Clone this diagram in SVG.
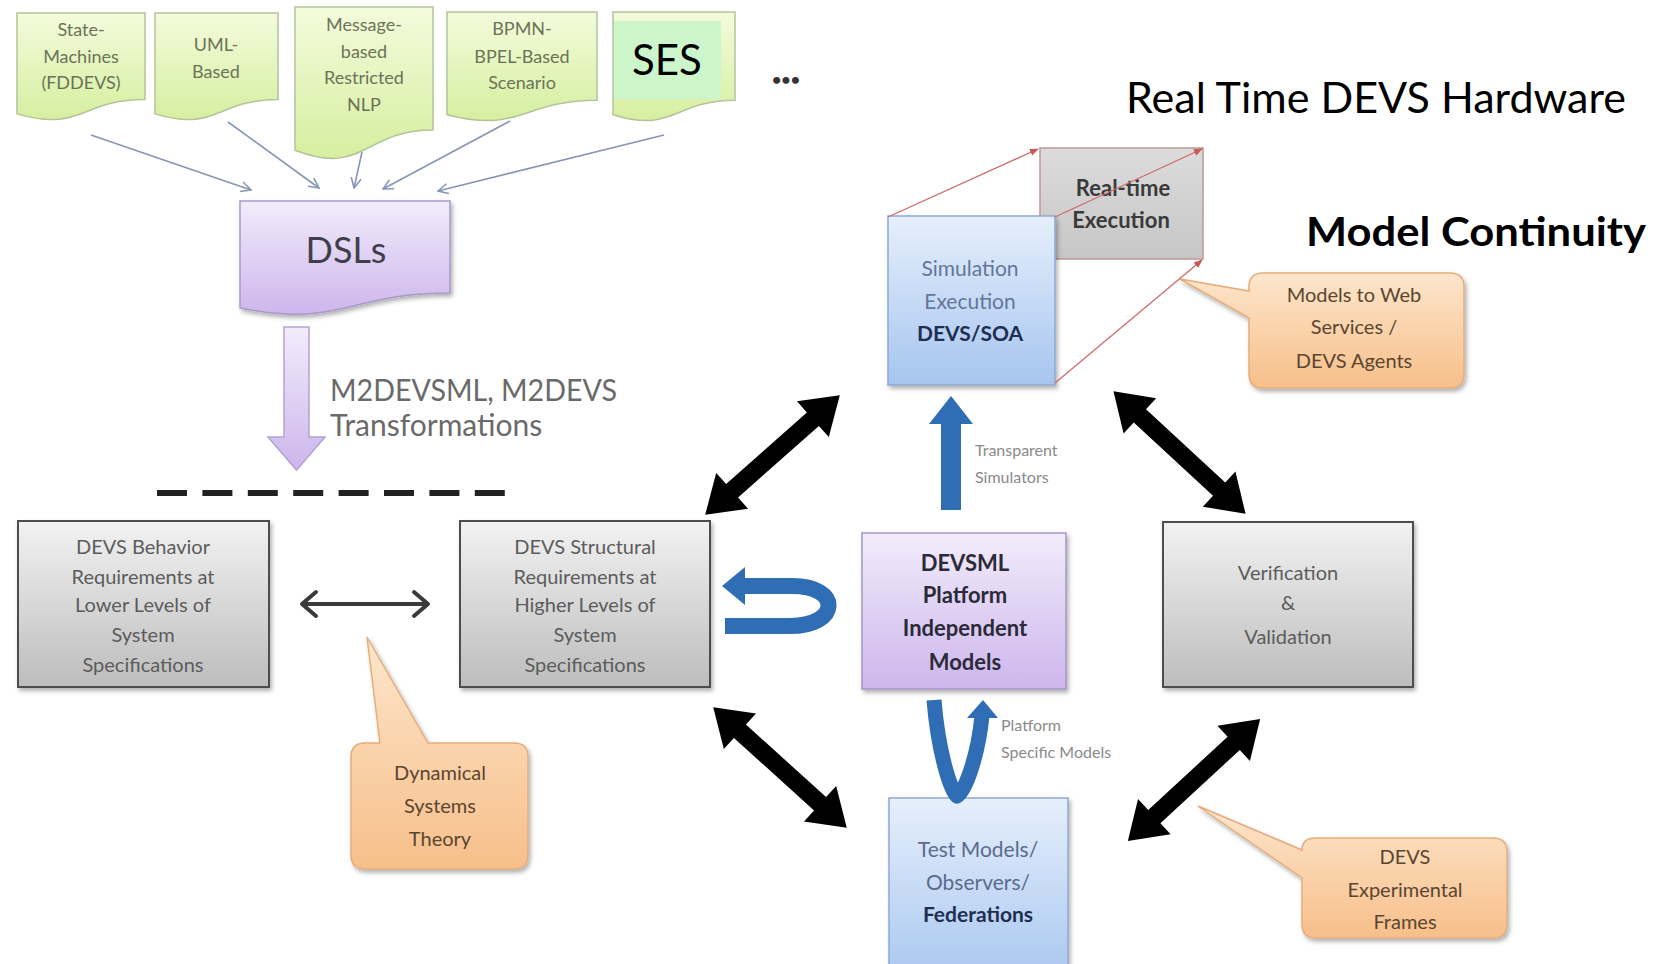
<svg xmlns="http://www.w3.org/2000/svg" xmlns:xlink="http://www.w3.org/1999/xlink" width="1655" height="964" viewBox="0 0 1655 964">
  <defs>
    <linearGradient id="gGreen" x1="0" y1="0" x2="0" y2="1">
      <stop offset="0" stop-color="#f4fbdc"/>
      <stop offset="1" stop-color="#d6efa0"/>
    </linearGradient>
    <linearGradient id="gPurple" x1="0" y1="0" x2="0" y2="1">
      <stop offset="0" stop-color="#f2ecfb"/>
      <stop offset="1" stop-color="#cdb6ec"/>
    </linearGradient>
    <linearGradient id="gGray" x1="0" y1="0" x2="0" y2="1">
      <stop offset="0" stop-color="#f2f2f2"/>
      <stop offset="1" stop-color="#bdbdbd"/>
    </linearGradient>
    <linearGradient id="gBlue" x1="0" y1="0" x2="0" y2="1">
      <stop offset="0" stop-color="#e6effc"/>
      <stop offset="1" stop-color="#a6c5ef"/>
    </linearGradient>
    <linearGradient id="gOrange" x1="0" y1="0" x2="0" y2="1">
      <stop offset="0" stop-color="#fde6cc"/>
      <stop offset="1" stop-color="#f7bf8a"/>
    </linearGradient>
    <linearGradient id="gRT" x1="0" y1="0" x2="0" y2="1">
      <stop offset="0" stop-color="#dcdcdc"/>
      <stop offset="1" stop-color="#c6c6c6"/>
    </linearGradient>
    <filter id="shadow" x="-10%" y="-10%" width="125%" height="130%">
      <feDropShadow dx="2" dy="3" stdDeviation="2" flood-color="#000" flood-opacity="0.3"/>
    </filter>
    <marker id="openHead" viewBox="0 0 12 12" refX="11" refY="6" markerWidth="12" markerHeight="12" markerUnits="userSpaceOnUse" orient="auto">
      <path d="M1,1 L11,6 L1,11" fill="none" stroke="#8796b6" stroke-width="1.6"/>
    </marker>
    <marker id="redHead" viewBox="0 0 10 10" refX="9" refY="5" markerWidth="9" markerHeight="9" markerUnits="userSpaceOnUse" orient="auto">
      <path d="M0,1 L10,5 L0,9 Z" fill="#c85a5a"/>
    </marker>
    <!-- thick black two-headed arrow, 180 long, centred on the origin -->
    <polygon id="dbl" points="-90,0 -54,-24 -54,-9 54,-9 54,-24 90,0 54,24 54,9 -54,9 -54,24" fill="#000"/>
    <style>
      .t { font-family: Lato, "Liberation Sans", sans-serif; text-anchor: middle; }
      .doc { fill: url(#gGreen); stroke: #b4c39a; stroke-width: 1.5; }
      .doctxt { font-size: 18px; fill: #6b7358; }
      .graybox { fill: url(#gGray); stroke: #4e4e4e; stroke-width: 2; filter: url(#shadow); }
      .graytxt { font-size: 20px; fill: #5c5c5c; }
      .bluebox { fill: url(#gBlue); stroke: #8ea9d0; stroke-width: 1.5; filter: url(#shadow); }
      .callout { fill: url(#gOrange); stroke: #e5ad7c; stroke-width: 1.5; filter: url(#shadow); }
      .calltxt { font-size: 20px; fill: #5a4630; }
      .small { font-family: Lato, "Liberation Sans", sans-serif; font-size: 16px; fill: #8a8a8a; }
      .thin { fill: none; stroke: #8796b6; stroke-width: 1.6; marker-end: url(#openHead); }
      .red { fill: none; stroke: #d06a6a; stroke-width: 1.3; marker-end: url(#redHead); }
      .blue { fill: #2f6db5; }
    </style>
  </defs>

  <rect width="1655" height="964" fill="#ffffff"/>

  <!-- source documents -->
  <g id="doc-state-machines">
    <path class="doc" d="M17,13 H145 V99.6 C81,99.6 81,132.6 17,113.9 Z"/>
    <text class="t doctxt" x="81" y="36">State-</text>
    <text class="t doctxt" x="81" y="63">Machines</text>
    <text class="t doctxt" x="81" y="89">(FDDEVS)</text>
  </g>
  <g id="doc-uml">
    <path class="doc" d="M155,13 H278 V99.6 C216.5,99.6 216.5,132.6 155,113.9 Z"/>
    <text class="t doctxt" x="216" y="51">UML-</text>
    <text class="t doctxt" x="216" y="78">Based</text>
  </g>
  <g id="doc-nlp">
    <path class="doc" d="M295,7 H433 V130 C364,130 364,176.8 295,150.3 Z"/>
    <text class="t doctxt" x="364" y="31">Message-</text>
    <text class="t doctxt" x="364" y="58">based</text>
    <text class="t doctxt" x="364" y="84">Restricted</text>
    <text class="t doctxt" x="364" y="111">NLP</text>
  </g>
  <g id="doc-bpmn">
    <path class="doc" d="M447,12 H597 V100.2 C522,100.2 522,133.8 447,114.7 Z"/>
    <text class="t doctxt" x="522" y="35">BPMN-</text>
    <text class="t doctxt" x="522" y="63">BPEL-Based</text>
    <text class="t doctxt" x="522" y="89">Scenario</text>
  </g>
  <g id="doc-ses">
    <path class="doc" d="M613,12 H735 V100.2 C674,100.2 674,133.8 613,114.7 Z"/>
    <rect x="614" y="21" width="107" height="78" fill="#ccf5cc"/>
    <text class="t" x="667" y="75" font-size="42" fill="#000">SES</text>
  </g>
  <text id="more" class="t" x="786" y="85" font-size="16" font-weight="bold" fill="#333">•••</text>

  <!-- DSLs -->
  <g id="dsls">
    <path d="M240,201 H450 V293 C345,293 345,328 240,308 Z" fill="url(#gPurple)" stroke="#a999c9" stroke-width="1.5" filter="url(#shadow)"/>
    <text class="t" x="346" y="263" font-size="36" fill="#3f3f4c">DSLs</text>
  </g>

  <!-- transformation step -->
  <g id="transform">
    <polygon points="284,327 309,327 309,437 325,437 296.5,470 268,437 284,437" fill="url(#gPurple)" stroke="#b3a3d3" stroke-width="1.5"/>
    <text x="330" y="401" font-family="Lato, 'Liberation Sans', sans-serif" font-size="30" fill="#6a6a6a" textLength="287" lengthAdjust="spacingAndGlyphs">M2DEVSML, M2DEVS</text>
    <text x="330" y="436" font-family="Lato, 'Liberation Sans', sans-serif" font-size="30" fill="#6a6a6a">Transformations</text>
  </g>

  <!-- level divider -->
  <line id="divider" x1="157" y1="493" x2="505" y2="493" stroke="#222" stroke-width="6" stroke-dasharray="30 15.4"/>

  <!-- requirement boxes -->
  <g id="behavior-req">
    <rect class="graybox" x="18" y="521" width="251" height="166"/>
    <text class="t graytxt" x="143" y="554">DEVS Behavior</text>
    <text class="t graytxt" x="143" y="584">Requirements at</text>
    <text class="t graytxt" x="143" y="612">Lower Levels of</text>
    <text class="t graytxt" x="143" y="642">System</text>
    <text class="t graytxt" x="143" y="672">Specifications</text>
  </g>
  <g id="structural-req">
    <rect class="graybox" x="460" y="521" width="250" height="166"/>
    <text class="t graytxt" x="585" y="554">DEVS Structural</text>
    <text class="t graytxt" x="585" y="584">Requirements at</text>
    <text class="t graytxt" x="585" y="612">Higher Levels of</text>
    <text class="t graytxt" x="585" y="642">System</text>
    <text class="t graytxt" x="585" y="672">Specifications</text>
  </g>

  <!-- callouts -->
  <g id="dynamical-systems">
    <path class="callout" d="M365,743 L380,743 L367,637 L428,743 L514,743 Q528,743 528,757 L528,855 Q528,869 514,869 L365,869 Q351,869 351,855 L351,757 Q351,743 365,743 Z"/>
    <text class="t calltxt" x="440" y="780">Dynamical</text>
    <text class="t calltxt" x="440" y="813">Systems</text>
    <text class="t calltxt" x="440" y="846">Theory</text>
  </g>
  <g id="web-services">
    <path class="callout" d="M1263,273 L1450,273 Q1464,273 1464,287 L1464,374 Q1464,388 1450,388 L1263,388 Q1249,388 1249,374 L1249,318 L1180,279 L1249,291 L1249,287 Q1249,273 1263,273 Z"/>
    <text class="t calltxt" x="1354" y="302">Models to Web</text>
    <text class="t calltxt" x="1354" y="334">Services /</text>
    <text class="t calltxt" x="1354" y="368">DEVS Agents</text>
  </g>
  <g id="experimental-frames">
    <path class="callout" d="M1316,838 L1493,838 Q1507,838 1507,852 L1507,924 Q1507,938 1493,938 L1316,938 Q1302,938 1302,924 L1302,878 L1198,806 L1302,850 Q1302,838 1316,838 Z"/>
    <text class="t calltxt" x="1405" y="864">DEVS</text>
    <text class="t calltxt" x="1405" y="897">Experimental</text>
    <text class="t calltxt" x="1405" y="929">Frames</text>
  </g>

  <!-- execution -->
  <g id="realtime-exec">
    <rect x="1040" y="148" width="163" height="111" fill="url(#gRT)" stroke="#c29696" stroke-width="1.5"/>
    <text class="t" x="1123" y="196" font-size="22" font-weight="bold" fill="#3a3a3a">Real-time</text>
    <text class="t" x="1121" y="228" font-size="22" font-weight="bold" fill="#3a3a3a">Execution</text>
  </g>
  <g id="simulation-exec">
    <rect class="bluebox" x="888" y="216" width="167" height="169"/>
    <text class="t" x="970" y="276" font-size="21" fill="#64769a">Simulation</text>
    <text class="t" x="970" y="309" font-size="21" fill="#64769a">Execution</text>
    <text class="t" x="970" y="341" font-size="21" font-weight="bold" fill="#1e2f52">DEVS/SOA</text>
  </g>

  <g id="devsml-pim">
    <rect x="862" y="533" width="204" height="156" fill="url(#gPurple)" stroke="#a596c4" stroke-width="1.5" filter="url(#shadow)"/>
    <text class="t" x="965" y="571" font-size="22" font-weight="bold" fill="#2b2b38">DEVSML</text>
    <text class="t" x="965" y="603" font-size="22" font-weight="bold" fill="#2b2b38">Platform</text>
    <text class="t" x="965" y="636" font-size="22" font-weight="bold" fill="#2b2b38">Independent</text>
    <text class="t" x="965" y="670" font-size="22" font-weight="bold" fill="#2b2b38">Models</text>
  </g>

  <g id="verification">
    <rect class="graybox" x="1163" y="522" width="250" height="165"/>
    <text class="t graytxt" x="1288" y="580">Verification</text>
    <text class="t graytxt" x="1288" y="610">&amp;</text>
    <text class="t graytxt" x="1288" y="644">Validation</text>
  </g>

  <g id="test-models">
    <rect class="bluebox" x="889" y="798" width="179" height="190"/>
    <text class="t" x="978" y="857" font-size="21" fill="#5b6b8c">Test Models/</text>
    <text class="t" x="978" y="890" font-size="21" fill="#5b6b8c">Observers/</text>
    <text class="t" x="978" y="922" font-size="21" font-weight="bold" fill="#1e2f52">Federations</text>
  </g>

  <!-- headings -->
  <text id="hw-title" x="1126" y="113" font-family="Lato, 'Liberation Sans', sans-serif" font-size="43" fill="#000" textLength="500" lengthAdjust="spacingAndGlyphs">Real Time DEVS Hardware</text>
  <text id="continuity-title" x="1306" y="246" font-family="Lato, 'Liberation Sans', sans-serif" font-size="41" font-weight="bold" fill="#000" textLength="340" lengthAdjust="spacingAndGlyphs">Model Continuity</text>

  <!-- connectors -->
  <g id="connectors">
    <line class="thin" x1="91" y1="135" x2="251" y2="190"/>
    <line class="thin" x1="228" y1="122" x2="319" y2="188"/>
    <line class="thin" x1="362" y1="152" x2="354" y2="188"/>
    <line class="thin" x1="510" y1="121" x2="383" y2="189"/>
    <line class="thin" x1="664" y1="135" x2="438" y2="191"/>

    <line class="red" x1="888" y1="217" x2="1038" y2="149"/>
    <line class="red" x1="1055" y1="217" x2="1202" y2="149"/>
    <line class="red" x1="1055" y1="383" x2="1202" y2="260"/>

    <g fill="none" stroke="#3a3a3a" stroke-width="4" stroke-linecap="round" stroke-linejoin="round">
      <line x1="303" y1="604" x2="427" y2="604"/>
      <polyline points="316,592 302,604 316,616"/>
      <polyline points="414,592 428,604 414,616"/>
    </g>

    <use href="#dbl" transform="translate(772.5,455) rotate(-41.6)"/>
    <use href="#dbl" transform="translate(1179.5,452.5) rotate(42.8)"/>
    <use href="#dbl" transform="translate(780,767.5) rotate(42.1)"/>
    <use href="#dbl" transform="translate(1194,780) rotate(-42.7)"/>

    <!-- transparent simulators -->
    <polygon class="blue" points="941,510 941,424 929,424 951,396 973,424 961,424 961,510"/>
    <text class="small" x="975" y="456">Transparent</text>
    <text class="small" x="975" y="483">Simulators</text>

    <!-- platform specific models -->
    <path d="M934,700 C938,750 950,790 957,796 C966,790 978,755 982,716" fill="none" stroke="#2f6db5" stroke-width="15" stroke-linejoin="round"/>
    <polygon class="blue" points="967,718 998,718 983,700"/>
    <text class="small" x="1001" y="731">Platform</text>
    <text class="small" x="1001" y="758">Specific Models</text>

    <!-- refinement loop -->
    <path d="M725,626 L790,626 C840,626 842,586 792,586 L742,586" fill="none" stroke="#2f6db5" stroke-width="16"/>
    <polygon class="blue" points="745,567 745,605 722,586"/>
  </g>
</svg>
